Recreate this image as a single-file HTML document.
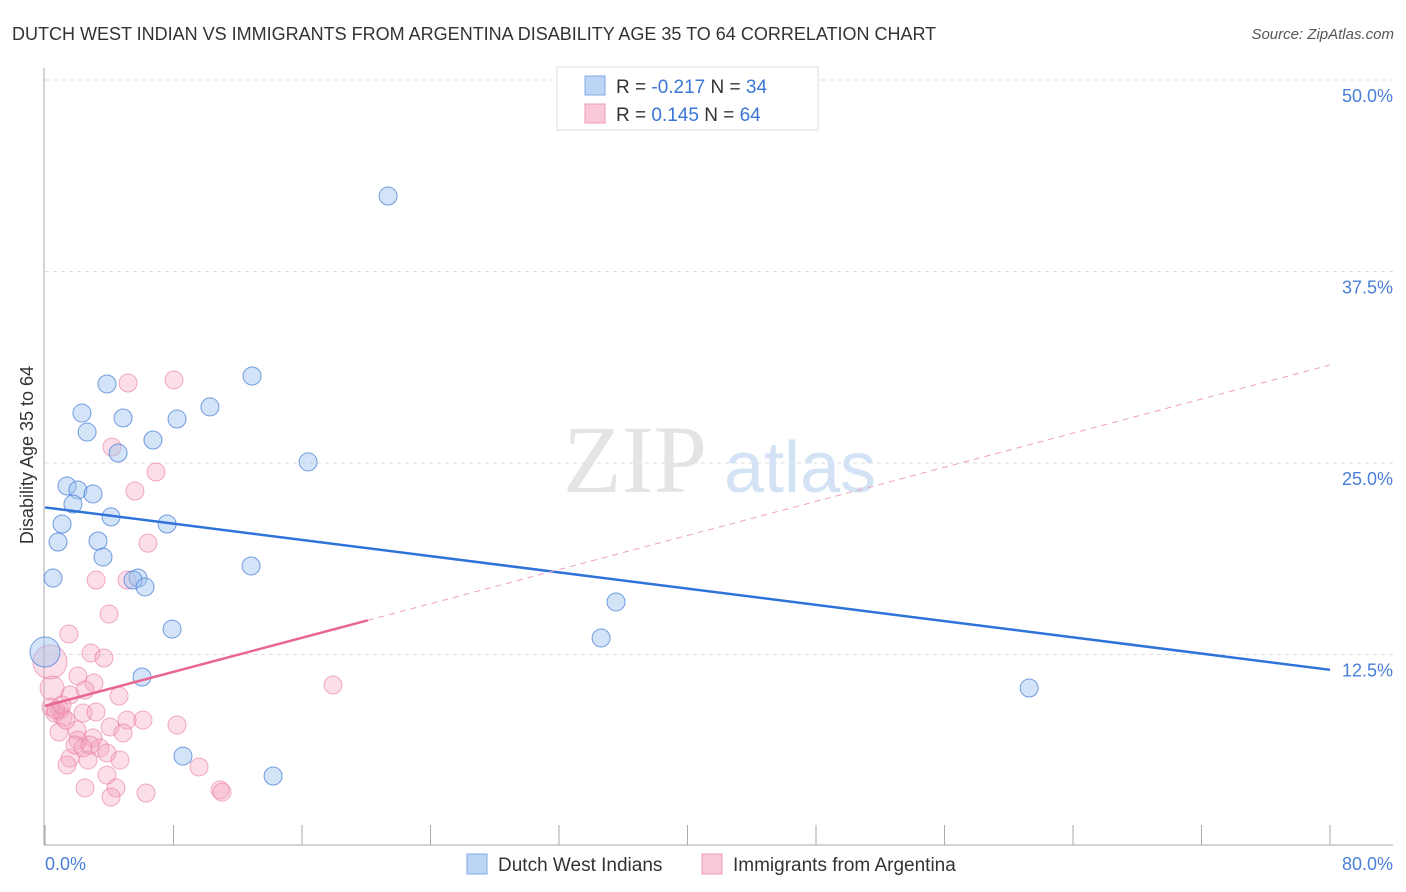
<!DOCTYPE html>
<html><head><meta charset="utf-8"><style>
body{margin:0;background:#fff;font-family:"Liberation Sans",sans-serif;}
svg{display:block}
</style></head><body>
<svg id="c" width="1406" height="892" xmlns="http://www.w3.org/2000/svg">
<text x="12" y="40" font-size="18" fill="#333">DUTCH WEST INDIAN VS IMMIGRANTS FROM ARGENTINA DISABILITY AGE 35 TO 64 CORRELATION CHART</text>
<text x="1394" y="39" font-size="15" fill="#555" font-style="italic" text-anchor="end">Source: ZipAtlas.com</text>
<g id="grid"></g>
<text x="635" y="492" font-size="96" fill="#e4e4e4" font-family="Liberation Serif,serif" text-anchor="middle">ZIP</text>
<text x="800" y="492" font-size="72" fill="#d3e2f5" text-anchor="middle">atlas</text>
<line x1="44" y1="68" x2="44" y2="845" stroke="#aaa"/>
<line x1="44" y1="845" x2="1393" y2="845" stroke="#aaa"/>
<g id="pts"></g>
<g id="lines"></g>
<text transform="translate(33,455) rotate(-90)" font-size="18" fill="#333" text-anchor="middle">Disability Age 35 to 64</text>
<text x="45" y="870" font-size="18" fill="#4a7fd8">0.0%</text>
<text x="1393" y="870" font-size="18" fill="#4a7fd8" text-anchor="end">80.0%</text>
<g>
<rect x="557" y="67" width="261" height="63" fill="#fff" stroke="#ddd"/>
<rect x="585" y="76" width="20" height="19" fill="#bcd5f5" stroke="#7fa8e6"/>
<rect x="585" y="104" width="20" height="19" fill="#f9c9d8" stroke="#ee9ab5"/>
<text x="616" y="93" font-size="19" fill="#333">R = <tspan fill="#3a76d8">-0.217</tspan>   N = <tspan fill="#3a76d8">34</tspan></text>
<text x="616" y="121" font-size="19" fill="#333">R =  <tspan fill="#3a76d8"> 0.145</tspan>   N = <tspan fill="#3a76d8">64</tspan></text>
</g>
<g>
<rect x="467" y="854" width="20" height="20" fill="#bcd5f5" stroke="#7fa8e6"/>
<text x="498" y="871" font-size="19" fill="#333">Dutch West Indians</text>
<rect x="702" y="854" width="20" height="20" fill="#f9c9d8" stroke="#ee9ab5"/>
<text x="733" y="871" font-size="19" fill="#333">Immigrants from Argentina</text>
</g>
</svg>
<script>
const yTicks=[12.5,25,37.5,50];
const yTickLabels=["12.5%","25.0%","37.5%","50.0%"];
const xTicks=[0,8,16,24,32,40,48,56,64,72,80];
const blueX=[21.36,12.89,3.86,10.27,2.30,4.86,8.22,2.62,6.72,4.55,16.38,1.37,2.05,2.99,1.74,4.11,1.06,7.60,0.81,3.30,3.61,12.83,0.50,5.79,5.48,6.23,35.55,7.91,34.62,0.0,6.04,61.27,8.59,14.20];
const blueY=[42.43,30.68,30.16,28.66,28.26,27.94,27.87,27.02,26.50,25.65,25.07,23.50,23.24,22.98,22.32,21.48,21.02,21.02,19.84,19.91,18.86,18.28,17.49,17.49,17.36,16.91,15.93,14.16,13.58,12.66,11.03,10.31,5.87,4.57];
const pinkX=[5.17,8.03,4.17,6.91,5.60,6.41,3.18,5.11,3.99,1.49,2.86,3.67,0.31,17.93,2.05,3.05,4.61,0.44,2.49,1.56,0.37,0.93,0.62,1.12,2.37,3.18,0.87,4.05,5.11,6.10,8.22,4.86,1.99,2.05,2.99,2.37,3.42,3.86,2.68,1.56,4.67,1.37,3.86,9.59,2.49,4.42,4.11,6.29,10.90,11.02,0.68,1.31,1.87,2.80,1.06];
const pinkY=[30.22,30.42,26.04,24.41,23.17,19.77,17.36,17.36,15.14,13.84,12.60,12.27,12.01,10.51,11.10,10.64,9.79,10.31,10.18,9.86,9.07,8.88,8.68,8.42,8.68,8.75,7.44,7.77,8.22,8.22,7.90,7.38,7.57,6.92,7.05,6.40,6.40,6.07,5.61,5.74,5.61,5.29,4.63,5.16,3.79,3.79,3.20,3.46,3.66,3.52,8.88,8.22,6.59,6.59,9.20];
const blueTrend=[22.1,11.5];
const pinkTrend=[9.14,31.4];
const pinkSolidEnd=20.1;
const X=v=>45+v*16.0625, Y=v=>846-v*15.32;
const NS="http://www.w3.org/2000/svg";
function mk(t,a,p){const e=document.createElementNS(NS,t);for(const k in a)e.setAttribute(k,a[k]);p.appendChild(e);return e;}
const grid=document.getElementById('grid');
yTicks.forEach((t,i)=>{
 const l=mk('line',{x1:45,x2:1393,y1:Y(t),y2:Y(t),stroke:'#ddd','stroke-dasharray':'4,4'},grid);
 
 
 const tx=mk('text',{x:1393,y:Y(t)+22,'font-size':18,fill:'#4a7fd8','text-anchor':'end'},grid);
 tx.textContent=yTickLabels[i];
 
 
});
xTicks.forEach(t=>{
 const l=mk('line',{x1:X(t),x2:X(t),y1:825,y2:845,stroke:'#aaa'},grid);
 
 
});
const pts=document.getElementById('pts');
pinkX.forEach((x,i)=>{
 const r=(i===12)?17:(i===17?12:9);
 const c=mk('circle',{cx:X(x),cy:Y(pinkY[i]),r:r,fill:'rgba(244,160,188,0.35)',stroke:'rgba(232,120,156,0.6)','stroke-width':1},pts);
 
 
});
blueX.forEach((x,i)=>{
 const r=(i===29)?15:9;
 const c=mk('circle',{cx:X(x),cy:Y(blueY[i]),r:r,fill:'rgba(160,195,240,0.45)',stroke:'rgba(70,125,215,0.75)','stroke-width':1},pts);
 
 
});
const lines=document.getElementById('lines');
const pAt=x=>pinkTrend[0]+(pinkTrend[1]-pinkTrend[0])*x/80;
let l1=mk('line',{x1:X(0),y1:Y(blueTrend[0]),x2:X(80),y2:Y(blueTrend[1]),stroke:'#2f73d9','stroke-width':2.5},lines);


let l2=mk('line',{x1:X(0),y1:Y(pAt(0)),x2:X(pinkSolidEnd),y2:Y(pAt(pinkSolidEnd)),stroke:'#e8668f','stroke-width':2.5},lines);


let l3=mk('line',{x1:X(pinkSolidEnd),y1:Y(pAt(pinkSolidEnd)),x2:X(80),y2:Y(pAt(80)),stroke:'#eda0b8','stroke-width':1,'stroke-dasharray':'6,5'},lines);


</script>
</body></html>
